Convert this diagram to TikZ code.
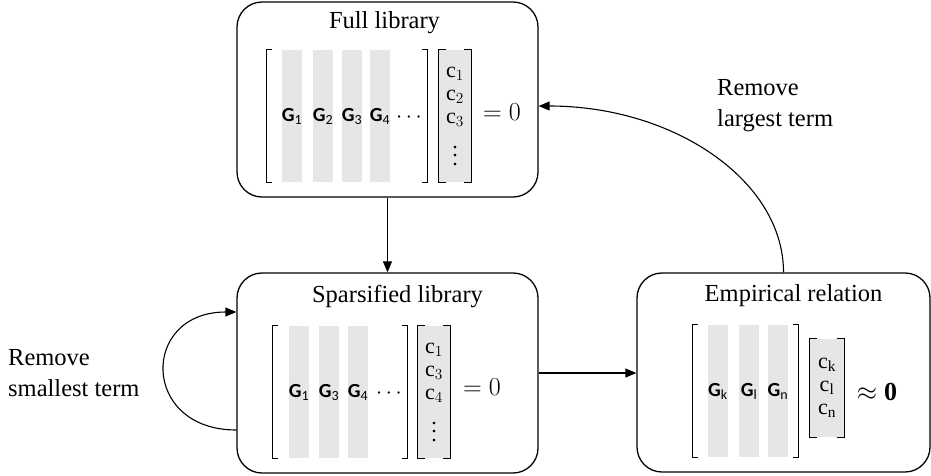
\RequirePackage{fix-cm}
\documentclass[tikz,border=0pt]{standalone}
\usepackage{fontspec}
\setmainfont{Liberation Serif}
\newfontfamily\calibri{Carlito}
\usetikzlibrary{arrows.meta,positioning,calc}
\definecolor{ColBg}{RGB}{230,230,230}
\newcommand{\cvdots}{\vtop{\baselineskip8.5pt\lineskiplimit0pt\hbox{\smash{.}}\hbox{\smash{.}}\hbox{\smash{.}}}}
\tikzset{
  box/.style={draw,rounded corners=25pt,line width=1.3pt,inner sep=0pt},
  title/.style={font=\fontsize{24.5}{28}\selectfont,inner sep=0pt,anchor=base},
  gmat/.style={inner sep=0pt,minimum height=132pt},
  gcol/.style={fill=ColBg,inner sep=0pt,minimum width=20pt,minimum height=132pt,
               font=\calibri\fontsize{20}{22}\selectfont},
  cvec/.style={fill=ColBg,inner sep=0pt,minimum width=32pt,align=center,
               font=\fontsize{22}{23}\selectfont},
  brk/.style={line width=1pt},
  rel/.style={font=\fontsize{26}{30}\selectfont,inner sep=0pt},
  lbl/.style={align=left,font=\fontsize{24.5}{31}\selectfont,inner sep=0pt,anchor=west},
  tedge/.style={-{Triangle[length=11pt,width=9pt]},line width=1.1pt},
}

\begin{document}
\begin{tikzpicture}[x=1pt,y=-1pt]
  \useasboundingbox (0,0) rectangle (931,475);

  % the three stages
  \node[box,minimum width=301pt,minimum height=195pt] (full) at (387.5,99.5) {};
  \node[box,minimum width=301pt,minimum height=200pt] (sparse) at (387.5,373) {};
  \node[box,minimum width=293pt,minimum height=199pt] (emp) at (783.5,372.5) {};

  \node[title] (tfull) at (384.5,28) {Full library};
  \node[title] (tsparse) at (397.5,302.5) {Sparsified library};
  \node[title] (temp) at (793.5,301.5) {Empirical relation};

  % full library
  \node[gmat,minimum width=160pt] (fg) at (347,116) {};
  \node[gcol] (f1) at (292,116) {{\bfseries G}\textsubscript{1}};
  \node[gcol] (f2) at (323,116) {{\bfseries G}\textsubscript{2}};
  \node[gcol] (f3) at (352,116) {{\bfseries G}\textsubscript{3}};
  \node[gcol] (f4) at (380,116) {{\bfseries G}\textsubscript{4}};
  \node[rel,font=\fontsize{22}{22}\selectfont] (fdots) at (409,118) {$\cdots$};
  \node[cvec,minimum height=132pt] (fc) at (455,116)
    {$\mathrm{c}_1$\\$\mathrm{c}_2$\\$\mathrm{c}_3$\\[2pt]\cvdots};
  \node[rel] (feq) at (502,112) {$=0$};

  % sparsified library
  \node[gmat,minimum width=134pt] (sg) at (340,392) {};
  \node[gcol] (s1) at (299,392) {{\bfseries G}\textsubscript{1}};
  \node[gcol] (s3) at (329,392) {{\bfseries G}\textsubscript{3}};
  \node[gcol] (s4) at (358,392) {{\bfseries G}\textsubscript{4}};
  \node[rel,font=\fontsize{22}{22}\selectfont] (sdots) at (389,394) {$\cdots$};
  \node[cvec,minimum height=132pt] (sc) at (434,392)
    {$\mathrm{c}_1$\\$\mathrm{c}_3$\\$\mathrm{c}_4$\\[2pt]\cvdots};
  \node[rel] (seq) at (482,387) {$=0$};

  % empirical relation
  \node[gmat,minimum width=105pt] (eg) at (745.5,391) {};
  \node[gcol] (ek) at (718,391) {{\bfseries G}\textsubscript{k}};
  \node[gcol] (el) at (749,391) {{\bfseries G}\textsubscript{l}};
  \node[gcol] (en) at (778,391) {{\bfseries G}\textsubscript{n}};
  \node[cvec,minimum height=98pt,minimum width=34pt] (ec) at (827,388)
    {$\mathrm{c}_{\mathrm{k}}$\\$\mathrm{c}_{\mathrm{l}}$\\$\mathrm{c}_{\mathrm{n}}$};
  \node[rel] (eeq) at (877,392) {$\approx\mathbf{0}$};

  % brackets
  \foreach \m/\t in {fg/5,fc/7,sg/5,sc/7,eg/5,ec/7} {
    \draw[brk] ([xshift=\t pt]\m.north west) -- (\m.north west) -- (\m.south west) -- ([xshift=\t pt]\m.south west);
    \draw[brk] ([xshift=-\t pt]\m.north east) -- (\m.north east) -- (\m.south east) -- ([xshift=-\t pt]\m.south east);
  }

  % connectors
  \draw[tedge] (full) -- (sparse);
  \draw[tedge] (sparse.east) -- (sparse.east -| emp.west);
  \draw[tedge] (emp.north) .. controls +(0,-92) and +(135,0) .. ([yshift=-6.5pt]full.east);
  \draw[tedge] ([yshift=-57pt]sparse.west) .. controls +(-96,0) and +(-96,0) .. ([yshift=61pt]sparse.west);

  \node[lbl] (lsmall) at (8,373) {Remove\\smallest term};
  \node[lbl] (llarge) at (717,106) {Remove\\largest term};
\end{tikzpicture}
\end{document}
